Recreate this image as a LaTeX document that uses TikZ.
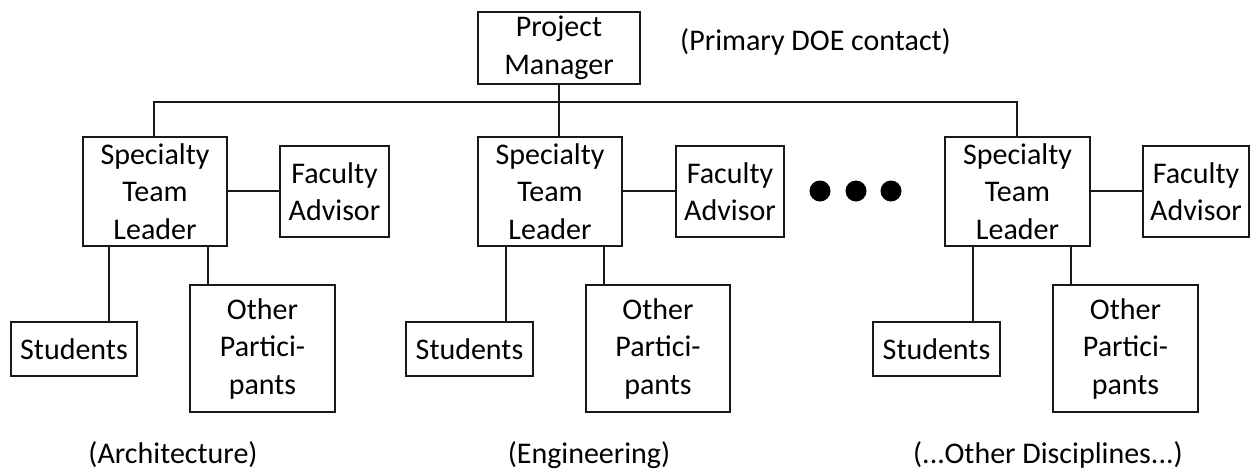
\documentclass[tikz,border=0pt]{standalone}
\usepackage{fontspec}
\setmainfont{Carlito}
\begin{document}
\begin{tikzpicture}[x=1pt,y=-1pt,
  box/.style={draw=black!90,line width=2pt,inner sep=0pt,align=center,
    font=\fontsize{30}{37.5}\selectfont},
  conn/.style={draw=black!90,line width=2.7pt},
  bus/.style={draw=black!90,line width=2pt},
  lbl/.style={inner sep=0pt,font=\fontsize{30}{37.5}\selectfont},
  dotc/.style={circle,fill=black,inner sep=0pt,minimum size=21pt}]
\useasboundingbox (0,0) rectangle (1250,471);
% top
\node[box,minimum width=162pt,minimum height=72pt] (pm) at (559,48) {Project\\Manager};
\node[lbl,anchor=west] (pdoe) at (680,42) {(Primary DOE contact)};
% group 1
\node[box,minimum width=144pt,minimum height=109pt] (stl1) at (155,191.5) {Specialty\\Team\\Leader};
\node[box,minimum width=109pt,minimum height=91pt] (fa1) at (334.5,191.5) {Faculty\\Advisor};
\node[box,minimum width=126pt,minimum height=54pt] (s1) at (74,349) {Students};
\node[box,minimum width=145pt,minimum height=127pt] (o1) at (262.5,348.5) {Other\\Partici-\\pants};
\node[lbl] (l1) at (173,455) {(Architecture)};
% group 2
\node[box,minimum width=144pt,minimum height=109pt] (stl2) at (550,191.5) {Specialty\\Team\\Leader};
\node[box,minimum width=108pt,minimum height=91pt] (fa2) at (730,191.5) {Faculty\\Advisor};
\node[box,minimum width=127pt,minimum height=54pt] (s2) at (469.5,349) {Students};
\node[box,minimum width=144pt,minimum height=127pt] (o2) at (658,348.5) {Other\\Partici-\\pants};
\node[lbl] (l2) at (589,455) {(Engineering)};
% group 3
\node[box,minimum width=145pt,minimum height=109pt] (stl3) at (1017.5,191.5) {Specialty\\Team\\Leader};
\node[box,minimum width=106pt,minimum height=91pt] (fa3) at (1196,191.5) {Faculty\\Advisor};
\node[box,minimum width=127pt,minimum height=54pt] (s3) at (936.5,349) {Students};
\node[box,minimum width=145pt,minimum height=127pt] (o3) at (1125.5,348.5) {Other\\Partici-\\pants};
\node[lbl] (l3) at (1048,455) {(...Other Disciplines...)};
% dots
\node[dotc] (d1) at (820,191) {};
\node[dotc] (d2) at (856,191) {};
\node[dotc] (d3) at (891,191) {};
% bus
\coordinate (bl) at (154,102);
\coordinate (br) at (1017,102);
\draw[bus] (stl1.north -| bl) -- (bl) -- (br) -- (stl3.north -| br);
\draw[bus] (pm.south -| 559,0) -- (stl2.north -| 559,0);
% connectors group 1
\draw[conn] (stl1.east |- 0,191) -- (fa1.west |- 0,191);
\draw[conn] (stl1.south -| 109,0) -- (s1.north -| 109,0);
\draw[conn] (stl1.south -| 208,0) -- (o1.north -| 208,0);
% group 2
\draw[conn] (stl2.east |- 0,191) -- (fa2.west |- 0,191);
\draw[conn] (stl2.south -| 506,0) -- (s2.north -| 506,0);
\draw[conn] (stl2.south -| 604,0) -- (o2.north -| 604,0);
% group 3
\draw[conn] (stl3.east |- 0,191) -- (fa3.west |- 0,191);
\draw[conn] (stl3.south -| 973,0) -- (s3.north -| 973,0);
\draw[conn] (stl3.south -| 1071,0) -- (o3.north -| 1071,0);
\end{tikzpicture}
\end{document}
